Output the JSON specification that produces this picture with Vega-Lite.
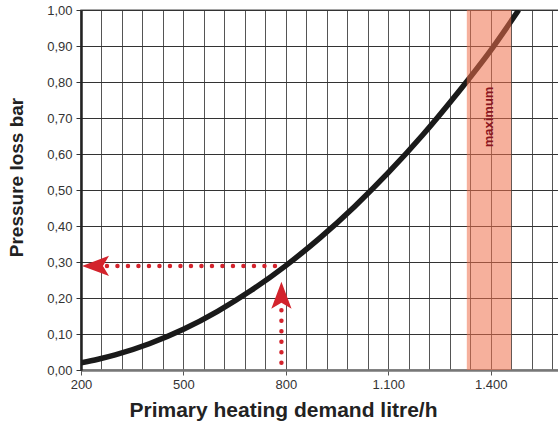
{
  "$schema": "https://vega.github.io/schema/vega-lite/v6.json",
  "width": 478,
  "height": 360,
  "autosize": "none",
  "padding": {"left": 81, "top": 10, "right": 0, "bottom": 58},
  "background": "white",
  "config": {
    "font": "Liberation Sans",
    "view": {"stroke": "#888", "strokeWidth": 1.5}
  },
  "datasets": {
    "curve": [
      {"x": 200, "y": 0.02}, {"x": 250, "y": 0.03}, {"x": 300, "y": 0.042},
      {"x": 400, "y": 0.073}, {"x": 500, "y": 0.113}, {"x": 600, "y": 0.163},
      {"x": 700, "y": 0.222}, {"x": 800, "y": 0.29}, {"x": 900, "y": 0.367},
      {"x": 1000, "y": 0.453}, {"x": 1100, "y": 0.548}, {"x": 1200, "y": 0.652},
      {"x": 1300, "y": 0.766}, {"x": 1400, "y": 0.888}, {"x": 1482, "y": 1.0}
    ],
    "band": [{"x": 1330, "x2": 1460, "y": 0.703, "label": "maximum"}],
    "guides": [
      {"seg": "h", "x": 276, "y": 0.289}, {"seg": "h", "x": 790, "y": 0.289},
      {"seg": "v", "x": 787, "y": 0.02}, {"seg": "v", "x": 787, "y": 0.19}
    ],
    "arrows": [
      {"dir": "left", "x": 203, "y": 0.289},
      {"dir": "up", "x": 787, "y": 0.245}
    ]
  },
  "encoding": {
    "x": {
      "field": "x", "type": "quantitative",
      "scale": {"domain": [200, 1600], "nice": false, "zero": false},
      "axis": {
        "values": [200,260,320,380,440,500,560,620,680,740,800,860,920,980,1040,1100,1160,1220,1280,1340,1400,1460,1520,1580],
        "labelExpr": "indexof([200,500,800,1100,1400], datum.value) >= 0 ? replace(format(datum.value, ','), ',', '.') : ''",
        "labelOverlap": false,
        "grid": true, "gridColor": "#555", "gridWidth": 1, "gridOpacity": 1,
        "tickColor": {"condition": {"test": "indexof([200,500,800,1100,1400], datum.value) >= 0", "value": "#555"}, "value": "transparent"},
        "tickSize": 5, "tickWidth": 1,
        "domainColor": "#777", "domainWidth": 2.5,
        "labelFontSize": 13, "labelColor": "#333", "labelPadding": 3, "labelFlush": false,
        "title": "Primary heating demand litre/h",
        "titleFontSize": 21, "titleFontWeight": "bold", "titleColor": "#222",
        "titlePadding": 8, "titleX": 202
      }
    },
    "y": {
      "field": "y", "type": "quantitative",
      "scale": {"domain": [0, 1], "nice": false},
      "axis": {
        "values": [0, 0.1, 0.2, 0.3, 0.4, 0.5, 0.6, 0.7, 0.8, 0.9, 1.0],
        "labelExpr": "replace(format(datum.value, '.2f'), '.', ',')",
        "labelOverlap": false,
        "grid": true, "gridColor": "#333", "gridWidth": 1, "gridOpacity": 1,
        "tickColor": "#333", "tickSize": 5,
        "domainColor": "#222", "domainWidth": 2.5,
        "labelFontSize": 13, "labelColor": "#333", "labelPadding": 4, "labelFlush": false,
        "title": "Pressure loss bar",
        "titleFontSize": 19, "titleFontWeight": "bold", "titleColor": "#222",
        "titlePadding": 20, "titleY": 167
      }
    }
  },
  "layer": [
    {
      "data": {"name": "curve"},
      "mark": {"type": "line", "color": "#1a1a1a", "strokeWidth": 5.5, "interpolate": "monotone", "strokeCap": "butt", "clip": true}
    },
    {
      "data": {"name": "band"},
      "mark": {"type": "rect", "color": "#ef6f4b", "opacity": 0.55},
      "encoding": {
        "x2": {"field": "x2"},
        "y": {"datum": 0},
        "y2": {"datum": 1}
      }
    },
    {
      "data": {"name": "band"},
      "mark": {"type": "text", "angle": 270, "color": "#8b1520", "fontSize": 13, "fontWeight": "bold", "align": "center", "baseline": "middle", "dy": 22},
      "encoding": {
        "text": {"field": "label"}
      }
    },
    {
      "data": {"name": "guides"},
      "mark": {"type": "line", "color": "#d3232c", "strokeWidth": 4.5, "strokeDash": [0, 10.5], "strokeCap": "round"},
      "encoding": {
        "detail": {"field": "seg"}
      }
    },
    {
      "data": {"name": "arrows"},
      "mark": {"type": "point", "filled": true, "color": "#d3232c", "opacity": 1, "size": 729},
      "encoding": {
        "shape": {
          "field": "dir", "type": "nominal",
          "scale": {"domain": ["left", "up"], "range": ["M0,0 L2,-0.75 L1.55,0 L2,0.75 Z", "M0,0 L-0.75,2 L0,1.55 L0.75,2 Z"]},
          "legend": null
        }
      }
    }
  ]
}
